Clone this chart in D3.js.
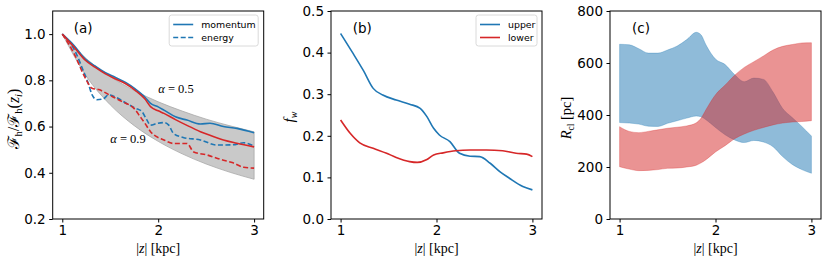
<!DOCTYPE html>
<html>
<head>
<meta charset="utf-8">
<script src="https://cdn.jsdelivr.net/npm/d3@7"></script>
<style>
  body { margin: 0; background: #fff; }
  .tick text { font-family: "DejaVu Sans", sans-serif; font-size: 13.5px; fill: #000; }
  .domain { display: none; }
  .tick line { stroke: #000; stroke-width: 1; }
</style>
</head>
<body>
<script>
// panel (a): normalised flux
const zBand = [1, 1.25, 1.5, 1.75, 2, 2.25, 2.5, 2.75, 3];
const band05 = [1, 0.894, 0.816, 0.756, 0.707, 0.667, 0.632, 0.603, 0.577];
const band09 = [1, 0.818, 0.694, 0.604, 0.536, 0.482, 0.438, 0.402, 0.372];

const zSolid = [1, 1.12, 1.24, 1.34, 1.45, 1.55, 1.66, 1.76, 1.86, 1.92, 2.0, 2.06, 2.18, 2.3, 2.44, 2.54, 2.68, 2.82, 3.0];
const momUpper = [1, 0.952, 0.892, 0.862, 0.833, 0.813, 0.791, 0.763, 0.728, 0.70, 0.685, 0.671, 0.642, 0.628, 0.611, 0.614, 0.600, 0.592, 0.573];
const momLower = [1, 0.945, 0.887, 0.857, 0.828, 0.807, 0.785, 0.757, 0.72, 0.686, 0.668, 0.657, 0.630, 0.605, 0.578, 0.562, 0.542, 0.528, 0.512];

const zEnUpper = [1, 1.135, 1.22, 1.27, 1.31, 1.36, 1.43, 1.48, 1.57, 1.67, 1.76, 1.83, 1.88, 1.92, 1.99, 2.06, 2.11, 2.16, 2.26, 2.44, 2.61, 2.78, 2.89, 3.0];
const enUpper = [1, 0.925, 0.84, 0.788, 0.738, 0.716, 0.72, 0.737, 0.725, 0.70, 0.68, 0.665, 0.63, 0.606, 0.614, 0.617, 0.606, 0.57, 0.553, 0.542, 0.52, 0.521, 0.53, 0.515];
const zEnLower = [1, 1.12, 1.24, 1.31, 1.38, 1.52, 1.62, 1.76, 1.81, 1.86, 1.92, 2.06, 2.16, 2.3, 2.37, 2.51, 2.65, 2.78, 2.89, 3.0];
const enLower = [1, 0.918, 0.81, 0.766, 0.76, 0.73, 0.709, 0.673, 0.644, 0.615, 0.578, 0.542, 0.527, 0.527, 0.49, 0.477, 0.458, 0.443, 0.424, 0.42];

// panel (b): warm gas fraction
const zFwUp = [1, 1.13, 1.24, 1.34, 1.44, 1.58, 1.72, 1.83, 1.9, 1.97, 2.03, 2.14, 2.24, 2.35, 2.45, 2.56, 2.66, 2.76, 2.9, 3];
const fwUpper = [0.446, 0.398, 0.356, 0.314, 0.298, 0.286, 0.276, 0.266, 0.246, 0.218, 0.202, 0.186, 0.158, 0.151, 0.150, 0.134, 0.114, 0.098, 0.078, 0.07];
const zFwLo = [1, 1.1, 1.2, 1.34, 1.48, 1.58, 1.72, 1.8, 1.9, 1.97, 2.07, 2.2, 2.35, 2.52, 2.69, 2.83, 2.94, 3];
const fwLower = [0.238, 0.206, 0.183, 0.170, 0.158, 0.148, 0.138, 0.136, 0.143, 0.154, 0.159, 0.164, 0.166, 0.166, 0.164, 0.158, 0.156, 0.15];

// panel (c): cloud radius ranges
const zR = [1, 1.1, 1.2, 1.3, 1.4, 1.5, 1.6, 1.7, 1.8, 1.85, 1.9, 2.0, 2.1, 2.2, 2.3, 2.4, 2.5, 2.6, 2.7, 2.8, 2.9, 3.0];
const rUpHi = [672, 670, 655, 638, 638, 650, 665, 690, 718, 708, 670, 615, 594, 555, 528, 542, 537, 488, 425, 390, 356, 319];
const rUpLo = [371, 369, 365, 357, 356, 368, 378, 388, 396, 393, 382, 352, 324, 304, 294, 302, 296, 278, 240, 210, 190, 176];
const rLoHi = [355, 337, 332, 337, 343, 349, 353, 358, 370, 388, 420, 478, 515, 553, 583, 605, 627, 650, 664, 671, 677, 678];
const rLoLo = [201, 192, 186, 187, 190, 195, 196, 200, 207, 216, 228, 258, 282, 309, 327, 341, 352, 362, 369, 373, 375, 378];

const xTicks = [1, 2, 3];
const blue = "#1f77b4", red = "#d62728";

const svg = d3.select("body").append("svg").attr("width", 831).attr("height", 263);

const mTop = 11, h = 208, w = 211;
const lefts = [52.7, 331, 610];
const yDomains = [[0.2, 1.1], [0, 0.5], [0, 800]];
const yTicks = [[0.2, 0.4, 0.6, 0.8, 1.0], [0, 0.1, 0.2, 0.3, 0.4, 0.5], [0, 200, 400, 600, 800]];
const yFmt = [d3.format(".1f"), d3.format(".1f"), d3.format("d")];

const panels = lefts.map((l, i) => {
  const g = svg.append("g").attr("transform", `translate(${l},${mTop})`);
  const x = d3.scaleLinear().domain([0.9, 3.1]).range([0, w]);
  const y = d3.scaleLinear().domain(yDomains[i]).range([h, 0]);
  g.append("g").attr("transform", `translate(0,${h})`)
    .call(d3.axisBottom(x).tickValues(xTicks).tickSize(3.5).tickPadding(3).tickFormat(d3.format("d")));
  g.append("g")
    .call(d3.axisLeft(y).tickValues(yTicks[i]).tickSize(3.5).tickPadding(3.5).tickFormat(yFmt[i]));
  return { g, x, y };
});

function pts(zs, vs) { return zs.map((z, i) => [z, vs[i]]); }

// ---- panel (a)
{
  const { g, x, y } = panels[0];
  const area = d3.area().x((d, i) => x(zBand[i])).y0(d => y(d[1])).y1(d => y(d[0])).curve(d3.curveMonotoneX);
  g.append("path").datum(zBand.map((z, i) => [band05[i], band09[i]]))
    .attr("d", area).attr("fill", "#c9c9c9").attr("stroke", "#a8a8a8").attr("stroke-width", 0.8);
  const line = d3.line().x(d => x(d[0])).y(d => y(d[1])).curve(d3.curveMonotoneX);
  const series = [
    [zEnUpper, enUpper, blue, "5,2.5"],
    [zEnLower, enLower, red, "5,2.5"],
    [zSolid, momUpper, blue, null],
    [zSolid, momLower, red, null]
  ];
  series.forEach(s => {
    g.append("path").datum(pts(s[0], s[1])).attr("d", line)
      .attr("fill", "none").attr("stroke", s[2]).attr("stroke-width", 1.6)
      .attr("stroke-dasharray", s[3]);
  });
  g.append("text").attr("x", x(2.0)).attr("y", y(0.745)).attr("font-family", "Liberation Serif")
    .attr("font-size", 12.5).html('<tspan font-style="italic">α</tspan> = 0.5');
  g.append("text").attr("x", x(1.5)).attr("y", y(0.53)).attr("font-family", "Liberation Serif")
    .attr("font-size", 12.5).html('<tspan font-style="italic">α</tspan> = 0.9');
  g.append("text").attr("x", 21).attr("y", 22).attr("font-family", "DejaVu Sans").attr("font-size", 13.5).text("(a)");
}

// ---- panel (b)
{
  const { g, x, y } = panels[1];
  const line = d3.line().x(d => x(d[0])).y(d => y(d[1])).curve(d3.curveMonotoneX);
  g.append("path").datum(pts(zFwUp, fwUpper)).attr("d", line)
    .attr("fill", "none").attr("stroke", blue).attr("stroke-width", 1.6);
  g.append("path").datum(pts(zFwLo, fwLower)).attr("d", line)
    .attr("fill", "none").attr("stroke", red).attr("stroke-width", 1.6);
  g.append("text").attr("x", 21.7).attr("y", 22).attr("font-family", "DejaVu Sans").attr("font-size", 13.5).text("(b)");
}

// ---- panel (c)
{
  const { g, x, y } = panels[2];
  const area = d3.area().x(d => x(d[0])).y0(d => y(d[1])).y1(d => y(d[2])).curve(d3.curveMonotoneX);
  g.append("path").datum(zR.map((z, i) => [z, rUpLo[i], rUpHi[i]])).attr("d", area)
    .attr("fill", blue).attr("fill-opacity", 0.5).attr("stroke", blue).attr("stroke-opacity", 0.3);
  g.append("path").datum(zR.map((z, i) => [z, rLoLo[i], rLoHi[i]])).attr("d", area)
    .attr("fill", red).attr("fill-opacity", 0.5).attr("stroke", red).attr("stroke-opacity", 0.3);
  g.append("text").attr("x", 22).attr("y", 22).attr("font-family", "DejaVu Sans").attr("font-size", 13.5).text("(c)");
}

// frames
panels.forEach(p => {
  p.g.append("rect").attr("width", w).attr("height", h).attr("fill", "none").attr("stroke", "#000").attr("stroke-width", 1);
});

// legends
function legend(g, lx, ly, lw, items) {
  const lg = g.append("g").attr("transform", `translate(${lx},${ly})`);
  lg.append("rect").attr("width", lw).attr("height", 31).attr("rx", 2.5)
    .attr("fill", "#fff").attr("fill-opacity", 0.8).attr("stroke", "#d0d0d0").attr("stroke-width", 0.8);
  items.forEach((it, i) => {
    const yy = 9.5 + i * 13;
    lg.append("line").attr("x1", 4).attr("x2", 24).attr("y1", yy).attr("y2", yy)
      .attr("stroke", it[1]).attr("stroke-width", 1.6).attr("stroke-dasharray", it[2]);
    lg.append("text").attr("x", 32).attr("y", yy + 3.5).attr("font-family", "DejaVu Sans")
      .attr("font-size", 9.4).text(it[0]);
  });
}
legend(panels[0].g, 116.5, 4, 89, [["momentum", blue, null], ["energy", blue, "5,2.5"]]);
legend(panels[1].g, 145, 4, 61, [["upper", blue, null], ["lower", red, null]]);

// x labels
panels.forEach(p => {
  p.g.append("text").attr("x", w / 2).attr("y", 242).attr("text-anchor", "middle")
    .attr("font-family", "Liberation Serif").attr("font-size", 14)
    .html('|<tspan font-style="italic">z</tspan>| [kpc]');
});

// y labels
svg.append("text").attr("transform", "translate(19,119) rotate(-90)").attr("text-anchor", "middle")
  .attr("font-family", "Liberation Serif").attr("font-size", 16)
  .html('ℱ<tspan font-size="10.5" dy="3">h</tspan><tspan dy="-3">/ℱ</tspan><tspan font-size="10.5" dy="3">h</tspan><tspan dy="-3">(</tspan><tspan font-style="italic">z</tspan><tspan font-size="10.5" font-style="italic" dy="3">i</tspan><tspan dy="-3">)</tspan>');
svg.append("text").attr("transform", "translate(294,117) rotate(-90)").attr("text-anchor", "middle")
  .attr("font-family", "Liberation Serif").attr("font-size", 15)
  .html('<tspan font-style="italic">f</tspan><tspan font-size="10" font-style="italic" dy="3">w</tspan>');
svg.append("text").attr("transform", "translate(571,118) rotate(-90)").attr("text-anchor", "middle")
  .attr("font-family", "Liberation Serif").attr("font-size", 14.5)
  .html('<tspan font-style="italic">R</tspan><tspan font-size="9.5" dy="3">cl</tspan><tspan dy="-3"> [pc]</tspan>');
</script>
</body>
</html>
